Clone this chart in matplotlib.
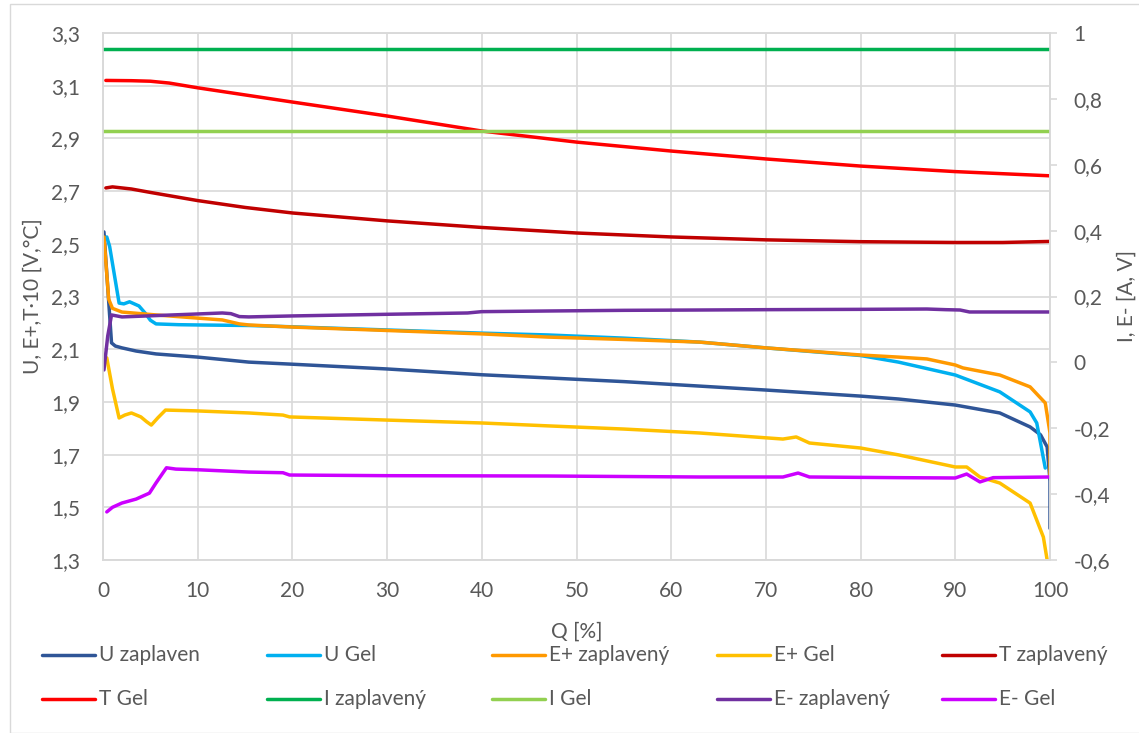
import matplotlib.pyplot as plt
import numpy as np
from matplotlib.lines import Line2D
from matplotlib.patches import Rectangle
from matplotlib.ticker import FuncFormatter

plt.rcParams['font.family'] = ['Lato', 'DejaVu Sans']

W, H = 1139, 733
TXT = '#595959'
GRID = '#D9D9D9'

# values, Q in %
# left axis: U, E+, T/10
q_u_zap = [0.1, 0.9, 1.3, 2.0, 3.5, 5.6, 10, 15.4, 20, 30, 40, 47, 55, 63, 70, 80, 84, 90, 94.7, 97.9, 99.0, 99.7, 100, 100]
u_zap = [2.545, 2.124, 2.112, 2.105, 2.093, 2.082, 2.070, 2.051, 2.043, 2.025, 2.003, 1.991, 1.977, 1.960, 1.945, 1.922, 1.911, 1.888, 1.858, 1.805, 1.775, 1.729, 1.60, 1.42]

q_u_gel = [0.4, 0.7, 1.7, 2.2, 2.8, 3.8, 4.5, 5.0, 5.6, 8, 10, 15.4, 20, 30, 40, 47, 55, 63, 70, 80, 84, 90, 94.7, 97.9, 98.6, 99.5]
u_gel = [2.526, 2.49, 2.275, 2.272, 2.280, 2.264, 2.235, 2.21, 2.196, 2.193, 2.192, 2.190, 2.185, 2.173, 2.161, 2.154, 2.142, 2.127, 2.105, 2.076, 2.051, 2.002, 1.938, 1.862, 1.820, 1.649]

q_ep_zap = [0.1, 0.6, 1.0, 2.0, 5.6, 10, 12.6, 14.4, 15.4, 20, 30, 40, 47, 55, 63, 70, 80, 84, 87, 90, 90.8, 94.7, 97.9, 99.5, 100, 100]
ep_zap = [2.526, 2.29, 2.255, 2.241, 2.230, 2.218, 2.211, 2.196, 2.192, 2.184, 2.171, 2.158, 2.146, 2.137, 2.127, 2.105, 2.078, 2.070, 2.063, 2.040, 2.029, 2.002, 1.957, 1.896, 1.782, 1.615]

q_ep_gel = [0.4, 1.0, 1.7, 2.3, 3.0, 4.0, 4.6, 5.1, 5.8, 6.6, 9.8, 15.4, 19.0, 19.7, 30, 40, 47, 55, 63, 71.8, 73.2, 74.6, 80, 84, 90, 91.2, 92.6, 94.7, 97.9, 99.3, 99.7]
ep_gel = [2.067, 1.95, 1.839, 1.850, 1.858, 1.843, 1.825, 1.812, 1.840, 1.869, 1.866, 1.858, 1.850, 1.843, 1.831, 1.820, 1.809, 1.797, 1.782, 1.759, 1.767, 1.744, 1.725, 1.699, 1.653, 1.653, 1.615, 1.592, 1.516, 1.387, 1.30]

q_t_zap = [0.3, 1.0, 3, 5, 10, 15, 20, 30, 40, 50, 60, 70, 80, 90, 95, 100]
t_zap = [2.712, 2.716, 2.708, 2.695, 2.664, 2.638, 2.617, 2.587, 2.562, 2.541, 2.526, 2.515, 2.508, 2.505, 2.505, 2.509]

q_t_gel = [0.3, 3, 5, 7, 10, 20, 30, 40, 50, 60, 70, 80, 90, 100]
t_gel = [3.120, 3.119, 3.117, 3.110, 3.092, 3.038, 2.985, 2.928, 2.886, 2.852, 2.822, 2.795, 2.774, 2.758]

# right axis: I, E-
q_i = [0, 100]
i_zap = [0.951, 0.951]
i_gel = [0.702, 0.702]

q_em_zap = [0.1, 0.5, 0.9, 2.0, 10, 12.6, 13.5, 14.4, 15.4, 20, 30, 38.5, 40, 47, 55, 63, 70, 80, 87, 89, 90.5, 91.5, 100]
em_zap = [-0.023, 0.08, 0.144, 0.138, 0.147, 0.150, 0.148, 0.139, 0.138, 0.141, 0.146, 0.150, 0.154, 0.156, 0.158, 0.159, 0.160, 0.161, 0.162, 0.160, 0.159, 0.153, 0.153]

q_em_gel = [0.4, 1.0, 2.0, 3.5, 4.9, 5.6, 6.7, 7.7, 10, 15.4, 19.0, 19.7, 30, 47, 63, 71.8, 73.4, 74.6, 84, 90, 91.2, 92.6, 94, 100]
em_gel = [-0.454, -0.44, -0.427, -0.415, -0.397, -0.366, -0.320, -0.324, -0.326, -0.333, -0.335, -0.342, -0.344, -0.345, -0.348, -0.348, -0.336, -0.348, -0.350, -0.351, -0.339, -0.363, -0.350, -0.348]

left_series = [
    ('U zaplaven', q_u_zap, u_zap, '#2F5597'),
    ('U Gel', q_u_gel, u_gel, '#00B0F0'),
    ('E+ zaplavený', q_ep_zap, ep_zap, '#FF9900'),
    ('E+ Gel', q_ep_gel, ep_gel, '#FFC000'),
    ('T zaplavený', q_t_zap, t_zap, '#C00000'),
    ('T Gel', q_t_gel, t_gel, '#FF0000'),
]
right_series = [
    ('I zaplavený', q_i, i_zap, '#00B050'),
    ('I Gel', q_i, i_gel, '#92D050'),
    ('E- zaplavený', q_em_zap, em_zap, '#7030A0'),
    ('E- Gel', q_em_gel, em_gel, '#CC00FF'),
]


def comma(v, pos=None):
    if abs(v - round(v)) < 1e-9:
        return str(int(round(v)))
    return f"{v:.1f}".replace('.', ',')


fig = plt.figure(figsize=(W / 100, H / 100), dpi=100)
fig.add_artist(Rectangle((9.5 / W, 0), 2, 1 - 3.5 / H, transform=fig.transFigure,
                         fill=False, edgecolor=GRID, lw=1))

ax = fig.add_axes([103 / W, 1 - 560 / H, (1050 - 103) / W, 527 / H])
ax2 = ax.twinx()

lw = 2.5
for name, q, v, c in left_series:
    ax.plot(q, v, color=c, lw=lw, solid_joinstyle='round', solid_capstyle='round')
for name, q, v, c in right_series:
    ax2.plot(q, v, color=c, lw=lw, solid_joinstyle='round', solid_capstyle='round')

ax.set_xlim(0, 100)
ax.set_ylim(1.3, 3.3)
ax2.set_ylim(-0.6, 1.0)
ax.set_xticks(np.arange(0, 101, 10))
ax.set_yticks(np.round(np.arange(1.3, 3.31, 0.2), 1))
ax2.set_yticks(np.round(np.arange(-0.6, 1.01, 0.2), 1))
ax.yaxis.set_major_formatter(FuncFormatter(comma))
ax2.yaxis.set_major_formatter(FuncFormatter(comma))

ax.grid(True, color=GRID, lw=1.2)
ax.set_axisbelow(True)
for a in (ax, ax2):
    for s in a.spines.values():
        s.set_color(GRID)
        s.set_linewidth(1.2)

fs = 15
ax.tick_params(axis='y', length=0, pad=16.5, labelsize=fs, labelcolor=TXT)
ax.tick_params(axis='x', length=0, pad=15, labelsize=fs, labelcolor=TXT)
ax2.tick_params(axis='y', length=5, width=1.2, color=GRID, pad=12, labelsize=fs, labelcolor=TXT)

fig.text(577 / W, 1 - 632 / H, 'Q [%]', ha='center', va='center', fontsize=fs, color=TXT)
fig.text(33 / W, 1 - 296 / H, 'U, E+,T·10 [V,°C]', ha='center', va='center',
         rotation=90, fontsize=fs, color=TXT)
fig.text(1127 / W, 1 - 296 / H, 'I, E- [A, V]', ha='center', va='center',
         rotation=90, fontsize=fs, color=TXT)

# legend, 2 rows x 5 columns below the plot
all_series = left_series + right_series
col_x = [42, 267, 492, 717, 942]
row_y = [655, 699]
for i, (name, q, v, c) in enumerate(all_series):
    x0 = col_x[i % 5]
    y0 = row_y[i // 5]
    fig.add_artist(Line2D([x0 / W, (x0 + 53) / W], [1 - y0 / H, 1 - y0 / H],
                          transform=fig.transFigure, color=c, lw=lw,
                          solid_capstyle='round'))
    fig.text((x0 + 57) / W, 1 - y0 / H, name, ha='left', va='center', fontsize=fs, color=TXT)

fig.savefig('out.png', dpi=100)
